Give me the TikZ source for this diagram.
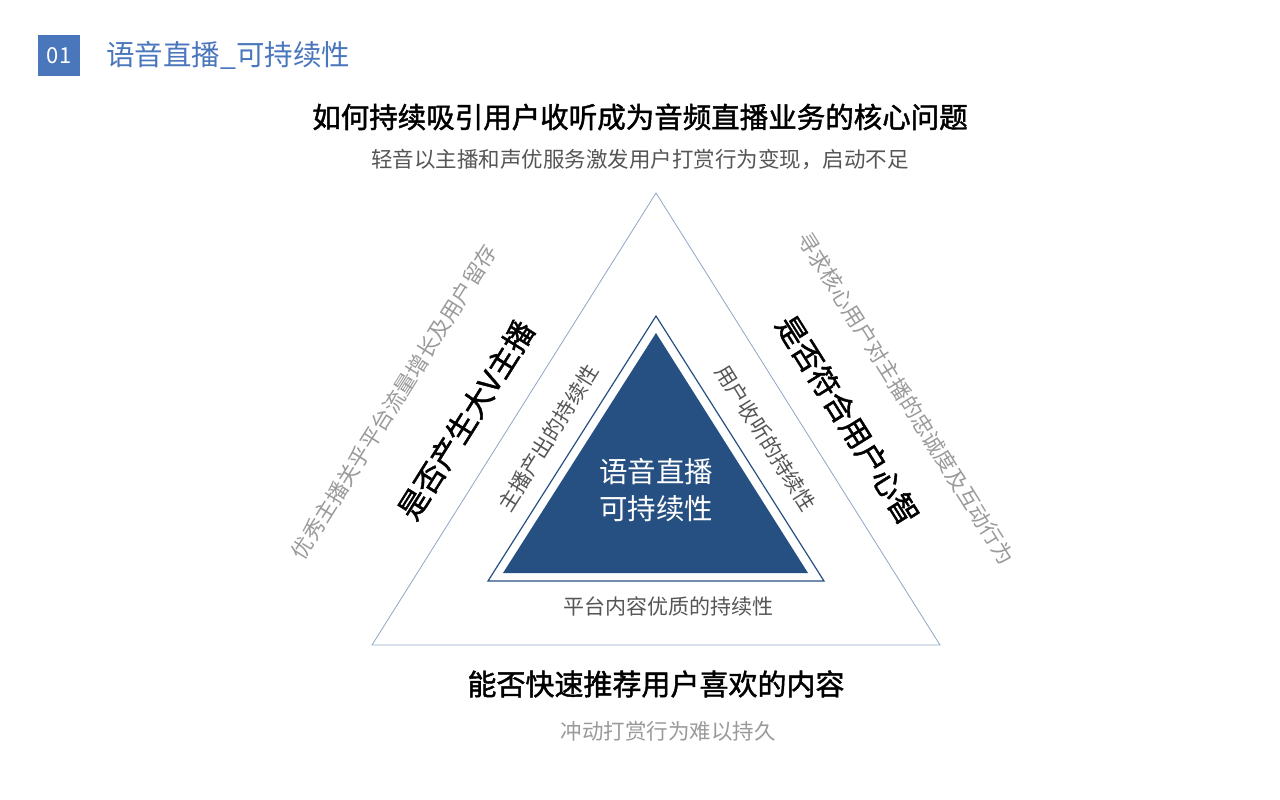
\documentclass[tikz,border=0pt]{standalone}
\usepackage{fontspec}
\setmainfont{Noto Sans CJK SC}
\newfontfamily\cjkb[FakeBold=1.5]{Noto Sans CJK SC}
\definecolor{hblue}{HTML}{4A76BC}
\definecolor{tblue}{HTML}{264F82}
\definecolor{lblue}{HTML}{8FA6C6}
\definecolor{dgray}{HTML}{555555}
\definecolor{lgray}{HTML}{9A9A9A}
\begin{document}
\begin{tikzpicture}[x=1pt,y=-1pt,
 fs/.style={font=\fontsize{#1}{#1}\selectfont},
 t/.style={inner sep=0pt,anchor=center}]
\useasboundingbox (0,0) rectangle (1280,800);
\node[t,fill=hblue,minimum width=42,minimum height=41,text=white,fs=22] (num) at (59,56) {01};
\node[t,anchor=west,text=hblue,fs=28.5] (title) at (106,55) {语音直播\_可持续性};
\node[t,fs=28.5] (h1) at (640,117) {\cjkb 如何持续吸引用户收听成为音频直播业务的核心问题};
\node[t,fs=21.5,text=dgray] (h2) at (640,160) {轻音以主播和声优服务激发用户打赏行为变现，启动不足};
\coordinate (oa) at (656,193); \coordinate (ob) at (372,645); \coordinate (oc) at (940,645);
\draw[lblue,line width=0.8] (oa)--(ob)--(oc)--cycle;
\coordinate (ia) at (656,316); \coordinate (ib) at (488,581); \coordinate (ic) at (824,581);
\draw[tblue,line width=1.2] (ia)--(ib)--(ic)--cycle;
\fill[tblue] (656,333)--(503,573)--(808,573)--cycle;
\node[t,text=white,fs=28.5,align=center] (ctr) at (656,490) {语音直播\\[8pt]可持续性};
\node[t,fs=21,text=dgray,rotate=57.9] (il) at (548,438) {主播产出的持续性};
\node[t,fs=21,text=dgray,rotate=-57.9] (ir) at (766,438) {用户收听的持续性};
\node[t,fs=21,text=dgray] (ib2) at (668,606) {平台内容优质的持续性};
\node[t,fs=30,rotate=57.9] (ol) at (466,420) {\cjkb 是否产生大V主播};
\node[t,fs=30,rotate=-57.9] (or) at (848,420) {\cjkb 是否符合用户心智};
\node[t,fs=21.5,text=lgray,rotate=57.9] (gl) at (394,402) {优秀主播关乎平台流量增长及用户留存};
\node[t,fs=21.5,text=lgray,rotate=-57.9] (gr) at (906,398) {寻求核心用户对主播的忠诚度及互动行为};
\node[t,fs=29] (b1) at (656,684) {\cjkb 能否快速推荐用户喜欢的内容};
\node[t,fs=21.5,text=lgray] (b2) at (668,731) {冲动打赏行为难以持久};
\end{tikzpicture}
\end{document}
